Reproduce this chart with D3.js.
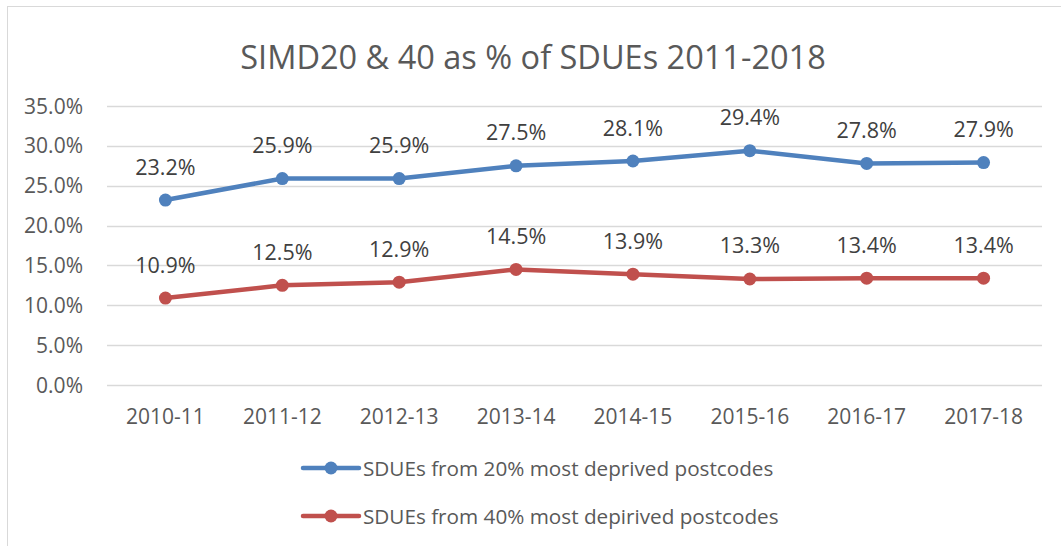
<!DOCTYPE html>
<html>
<head>
<meta charset="utf-8">
<script src="https://cdn.jsdelivr.net/npm/d3@7"></script>
<style>
  body { margin: 0; background: #fff; }
  text { font-family: "Open Sans", Lato, sans-serif; }
</style>
</head>
<body>
<div id="chart"></div>
<script>
const width = 1061;
const height = 546;

const years = ["2010-11", "2011-12", "2012-13", "2013-14", "2014-15", "2015-16", "2016-17", "2017-18"];
const simd20 = [23.2, 25.9, 25.9, 27.5, 28.1, 29.4, 27.8, 27.9];
const simd40 = [10.9, 12.5, 12.9, 14.5, 13.9, 13.3, 13.4, 13.4];
const yTicks = [0, 5, 10, 15, 20, 25, 30, 35];
const seriesNames = ["SDUEs from 20% most deprived postcodes", "SDUEs from 40% most depirived postcodes"];
const seriesColors = ["#4f81bd", "#c0504d"];

const margin = {top: 106, right: 19, bottom: 161, left: 107};

const svg = d3.select("#chart")
              .append("svg")
              .attr("width", width)
              .attr("height", height);

// chart border
svg.append("rect")
   .attr("x", 7.5)
   .attr("y", 6.5)
   .attr("width", width + 10)
   .attr("height", height + 10)
   .attr("fill", "none")
   .attr("stroke", "#d9d9d9");

const x = d3.scaleBand()
            .domain(years)
            .range([margin.left, width - margin.right]);

const y = d3.scaleLinear()
            .domain([0, 35])
            .range([height - margin.bottom, margin.top]);

svg.append("text")
   .attr("x", 533)
   .attr("y", 69)
   .attr("text-anchor", "middle")
   .attr("font-size", 32.5)
   .attr("fill", "#595959")
   .text("SIMD20 & 40 as % of SDUEs 2011-2018");

// gridlines
svg.append("g")
   .selectAll("line")
   .data(yTicks)
   .enter()
   .append("line")
   .attr("x1", margin.left)
   .attr("x2", width - margin.right)
   .attr("y1", d => Math.round(y(d)) + 0.5)
   .attr("y2", d => Math.round(y(d)) + 0.5)
   .attr("stroke", "#d9d9d9")
   .attr("stroke-width", 1.5);

svg.append("g")
   .selectAll("text")
   .data(yTicks)
   .enter()
   .append("text")
   .attr("x", 83)
   .attr("y", d => y(d) + 7.5)
   .attr("text-anchor", "end")
   .attr("font-size", 21)
   .attr("fill", "#595959")
   .text(d => d.toFixed(1) + "%");

svg.append("g")
   .selectAll("text")
   .data(years)
   .enter()
   .append("text")
   .attr("x", d => x(d) + x.bandwidth() / 2)
   .attr("y", 424)
   .attr("text-anchor", "middle")
   .attr("font-size", 21)
   .attr("fill", "#595959")
   .text(d => d);

const line = d3.line()
               .x((d, i) => x(years[i]) + x.bandwidth() / 2)
               .y(d => y(d));

[simd20, simd40].forEach((values, k) => {
  const g = svg.append("g");

  g.append("path")
   .datum(values)
   .attr("d", line)
   .attr("fill", "none")
   .attr("stroke", seriesColors[k])
   .attr("stroke-width", 4.5)
   .attr("stroke-linejoin", "round");

  g.selectAll("circle")
   .data(values)
   .enter()
   .append("circle")
   .attr("cx", (d, i) => x(years[i]) + x.bandwidth() / 2)
   .attr("cy", d => y(d))
   .attr("r", 6.5)
   .attr("fill", seriesColors[k]);

  g.selectAll("text")
   .data(values)
   .enter()
   .append("text")
   .attr("x", (d, i) => x(years[i]) + x.bandwidth() / 2)
   .attr("y", d => y(d) - 25.5)
   .attr("text-anchor", "middle")
   .attr("font-size", 21.5)
   .attr("fill", "#404040")
   .text(d => d.toFixed(1) + "%");
});

const legend = svg.append("g")
                  .selectAll("g")
                  .data(seriesNames)
                  .enter()
                  .append("g")
                  .attr("transform", (d, i) => `translate(303, ${468 + 48 * i})`);

legend.append("line")
      .attr("x1", 0)
      .attr("x2", 56)
      .attr("stroke", (d, i) => seriesColors[i])
      .attr("stroke-width", 4.5)
      .attr("stroke-linecap", "round");

legend.append("circle")
      .attr("cx", 28)
      .attr("r", 6.5)
      .attr("fill", (d, i) => seriesColors[i]);

legend.append("text")
      .attr("x", 60)
      .attr("y", 7.5)
      .attr("font-size", 20.7)
      .attr("fill", "#595959")
      .text(d => d);
</script>
</body>
</html>
